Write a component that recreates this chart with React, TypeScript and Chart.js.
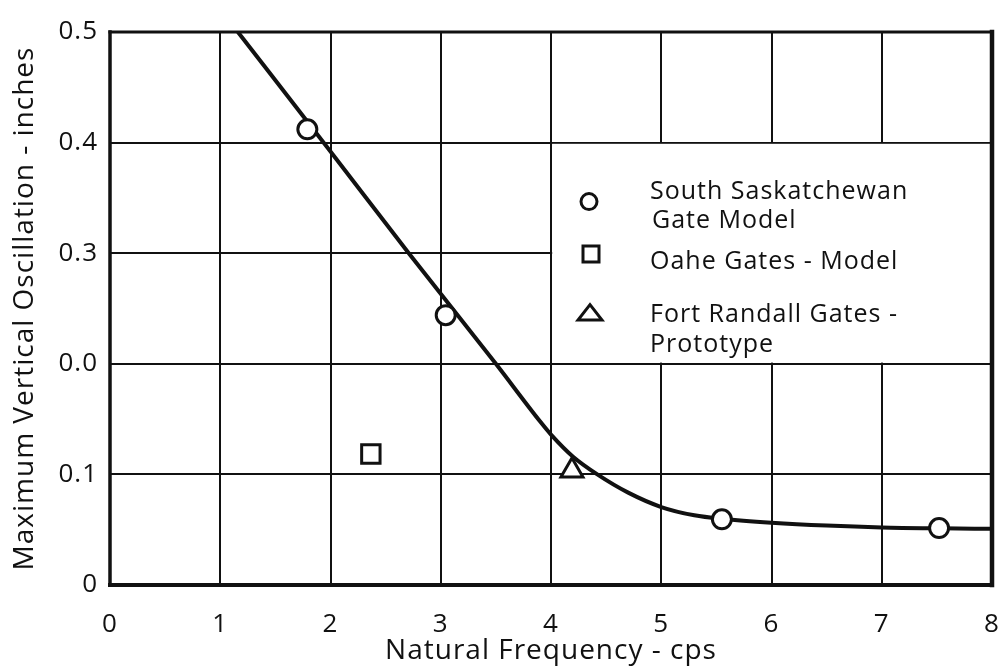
import React, { useEffect, useRef } from "react";
import { Chart, registerables } from "chart.js";

Chart.register(...registerables);

// ---------- data ----------
const xTickValues = [0, 1, 2, 3, 4, 5, 6, 7, 8];
const xTickLabels = ["0", "1", "2", "3", "4", "5", "6", "7", "8"];
const yTickValues = [0, 0.1, 0.2, 0.3, 0.4, 0.5];
const yTickLabels = ["0", "0.1", "0.0", "0.3", "0.4", "0.5"];

const xTitle = "Natural Frequency - cps";
const yTitle = "Maximum Vertical Oscillation - inches";

// fitted curve
const curveX = [1.16, 2.0, 2.71, 3.5, 3.9, 4.0, 4.2, 4.42, 4.7, 5.0, 5.3, 5.56, 6.0, 6.5, 7.0, 7.54, 8.0];
const curveY = [0.5, 0.392, 0.3, 0.2, 0.148, 0.136, 0.116, 0.1, 0.0835, 0.0705, 0.063, 0.0597, 0.0563, 0.0537, 0.052, 0.0512, 0.0508];

// South Saskatchewan Gate Model (circles)
const southX = [1.79, 3.045, 5.55, 7.52];
const southY = [0.412, 0.244, 0.0594, 0.0515];

// Oahe Gates - Model (square)
const oaheX = [2.366];
const oaheY = [0.1184];

// Fort Randall Gates - Prototype (triangle)
const fortX = [4.19];
const fortY = [0.1033];

const southLabel = ["South Saskatchewan", "Gate Model"];
const oaheLabel = ["Oahe Gates - Model"];
const fortLabel = ["Fort Randall Gates -", "Prototype"];

// ---------- styling ----------
const INK = "#111111";
const FONT = "'Open Sans', 'DejaVu Sans', sans-serif";

const toPoints = (xs: number[], ys: number[]) => xs.map((x, i) => ({ x, y: ys[i] }));

const framePlugin = {
  id: "frameAndLegend",
  beforeDraw(chart: any) {
    const ctx = chart.ctx as any;
    ctx.letterSpacing = "1px";
  },
  beforeDatasetsDraw(chart: any) {
    const ctx = chart.ctx as CanvasRenderingContext2D;
    const xs = chart.scales.x;
    const ys = chart.scales.y;
    const bx = xs.getPixelForValue(4);
    const by = ys.getPixelForValue(0.4);
    const bb = ys.getPixelForValue(0.2);
    const br = chart.chartArea.right;
    ctx.save();
    // white legend panel over the grid
    ctx.fillStyle = "#ffffff";
    ctx.fillRect(bx + 1.2, by + 1.2, br - bx - 2.4, bb - by - 2.4);

    // legend symbols
    ctx.strokeStyle = INK;
    ctx.lineWidth = 3;
    ctx.fillStyle = "#ffffff";
    // circle
    ctx.beginPath();
    ctx.arc(bx + 38, by + 59, 8, 0, Math.PI * 2);
    ctx.fill();
    ctx.stroke();
    // square
    ctx.beginPath();
    ctx.rect(bx + 32, by + 103.5, 16, 16);
    ctx.fill();
    ctx.stroke();
    // triangle
    ctx.beginPath();
    ctx.moveTo(bx + 39, by + 162);
    ctx.lineTo(bx + 51, by + 177.5);
    ctx.lineTo(bx + 27, by + 177.5);
    ctx.closePath();
    ctx.fill();
    ctx.stroke();

    // legend text
    ctx.fillStyle = INK;
    ctx.font = `25px ${FONT}`;
    ctx.textAlign = "left";
    ctx.textBaseline = "alphabetic";
    const tx = bx + 99;
    const groups: [string[], number[]][] = [
      [southLabel, [56, 85]],
      [oaheLabel, [126]],
      [fortLabel, [179, 209]],
    ];
    groups.forEach(([lines, offs]) => {
      lines.forEach((ln, i) => ctx.fillText(ln, tx + (i > 0 && lines === southLabel ? 2 : 0), by + offs[i]));
    });
    ctx.restore();
  },
  afterDatasetsDraw(chart: any) {
    const ctx = chart.ctx as CanvasRenderingContext2D;
    const { left, right, top, bottom } = chart.chartArea;
    ctx.save();
    ctx.strokeStyle = INK;
    ctx.lineCap = "square";
    const line = (x1: number, y1: number, x2: number, y2: number, w: number) => {
      ctx.lineWidth = w;
      ctx.beginPath();
      ctx.moveTo(x1, y1);
      ctx.lineTo(x2, y2);
      ctx.stroke();
    };
    line(left, top, right, top, 3);
    line(left, top, left, bottom, 3.5);
    line(left, bottom, right, bottom, 4);
    line(right, top, right, bottom, 4.5);
    ctx.restore();
  },
};

export default function App() {
  const ref = useRef<HTMLCanvasElement>(null);

  useEffect(() => {
    if (!ref.current) return;
    const chart = new Chart(ref.current, {
      type: "scatter",
      data: {
        datasets: [
          {
            label: southLabel.join(" "),
            data: toPoints(southX, southY),
            pointStyle: "circle",
            pointRadius: 9.5,
            pointBorderWidth: 3,
            pointBackgroundColor: "#ffffff",
            pointBorderColor: INK,
            showLine: false,
          },
          {
            label: oaheLabel.join(" "),
            data: toPoints(oaheX, oaheY),
            pointStyle: "rect",
            pointRadius: 13,
            pointBorderWidth: 3,
            pointBackgroundColor: "#ffffff",
            pointBorderColor: INK,
            showLine: false,
          },
          {
            label: fortLabel.join(" "),
            data: toPoints(fortX, fortY),
            pointStyle: "triangle",
            pointRadius: 12.7,
            pointBorderWidth: 3,
            pointBackgroundColor: "#ffffff",
            pointBorderColor: INK,
            showLine: false,
          },
          {
            label: "curve",
            data: toPoints(curveX, curveY),
            showLine: true,
            borderColor: INK,
            borderWidth: 4,
            pointRadius: 0,
            cubicInterpolationMode: "monotone",
            fill: false,
          },
        ],
      } as any,
      options: {
        responsive: false,
        animation: false,
        devicePixelRatio: 1,
        layout: { autoPadding: false, padding: { left: 0, right: 11, top: 32, bottom: 0 } },
        plugins: {
          legend: { display: false },
          tooltip: { enabled: false },
        },
        scales: {
          x: {
            type: "linear",
            min: 0,
            max: 8,
            afterBuildTicks: (s: any) => {
              s.ticks = xTickValues.map((v) => ({ value: v }));
            },
            afterFit: (s: any) => {
              s.height = 84;
              s.paddingLeft = 0;
              s.paddingRight = 0;
            },
            ticks: {
              autoSkip: false,
              maxRotation: 0,
              padding: 24,
              color: INK,
              font: { family: FONT, size: 26 },
              callback: (_v: any, i: number) => xTickLabels[i],
            },
            grid: { color: INK, lineWidth: 2, drawTicks: false },
            border: { display: false },
            title: {
              display: true,
              text: xTitle,
              color: INK,
              font: { family: FONT, size: 28 },
              padding: { top: 0, bottom: 1 },
            },
          },
          y: {
            type: "linear",
            min: 0,
            max: 0.5,
            afterBuildTicks: (s: any) => {
              s.ticks = yTickValues.map((v) => ({ value: v }));
            },
            afterFit: (s: any) => {
              s.width = 110;
            },
            ticks: {
              autoSkip: false,
              padding: 12,
              color: INK,
              font: { family: FONT, size: 26 },
              callback: (_v: any, i: number) => yTickLabels[i],
            },
            grid: { color: INK, lineWidth: 2, drawTicks: false },
            border: { display: false },
            title: {
              display: true,
              text: yTitle,
              color: INK,
              font: { family: FONT, size: 28 },
              padding: { top: 8, bottom: 0 },
            },
          },
        },
      } as any,
      plugins: [framePlugin],
    });
    return () => chart.destroy();
  }, []);

  return (
    <div style={{ position: "absolute", left: 0, top: 0, width: 1003, height: 669, background: "#ffffff" }}>
      <canvas ref={ref} width={1003} height={669} style={{ display: "block", width: 1003, height: 669 }} />
    </div>
  );
}
